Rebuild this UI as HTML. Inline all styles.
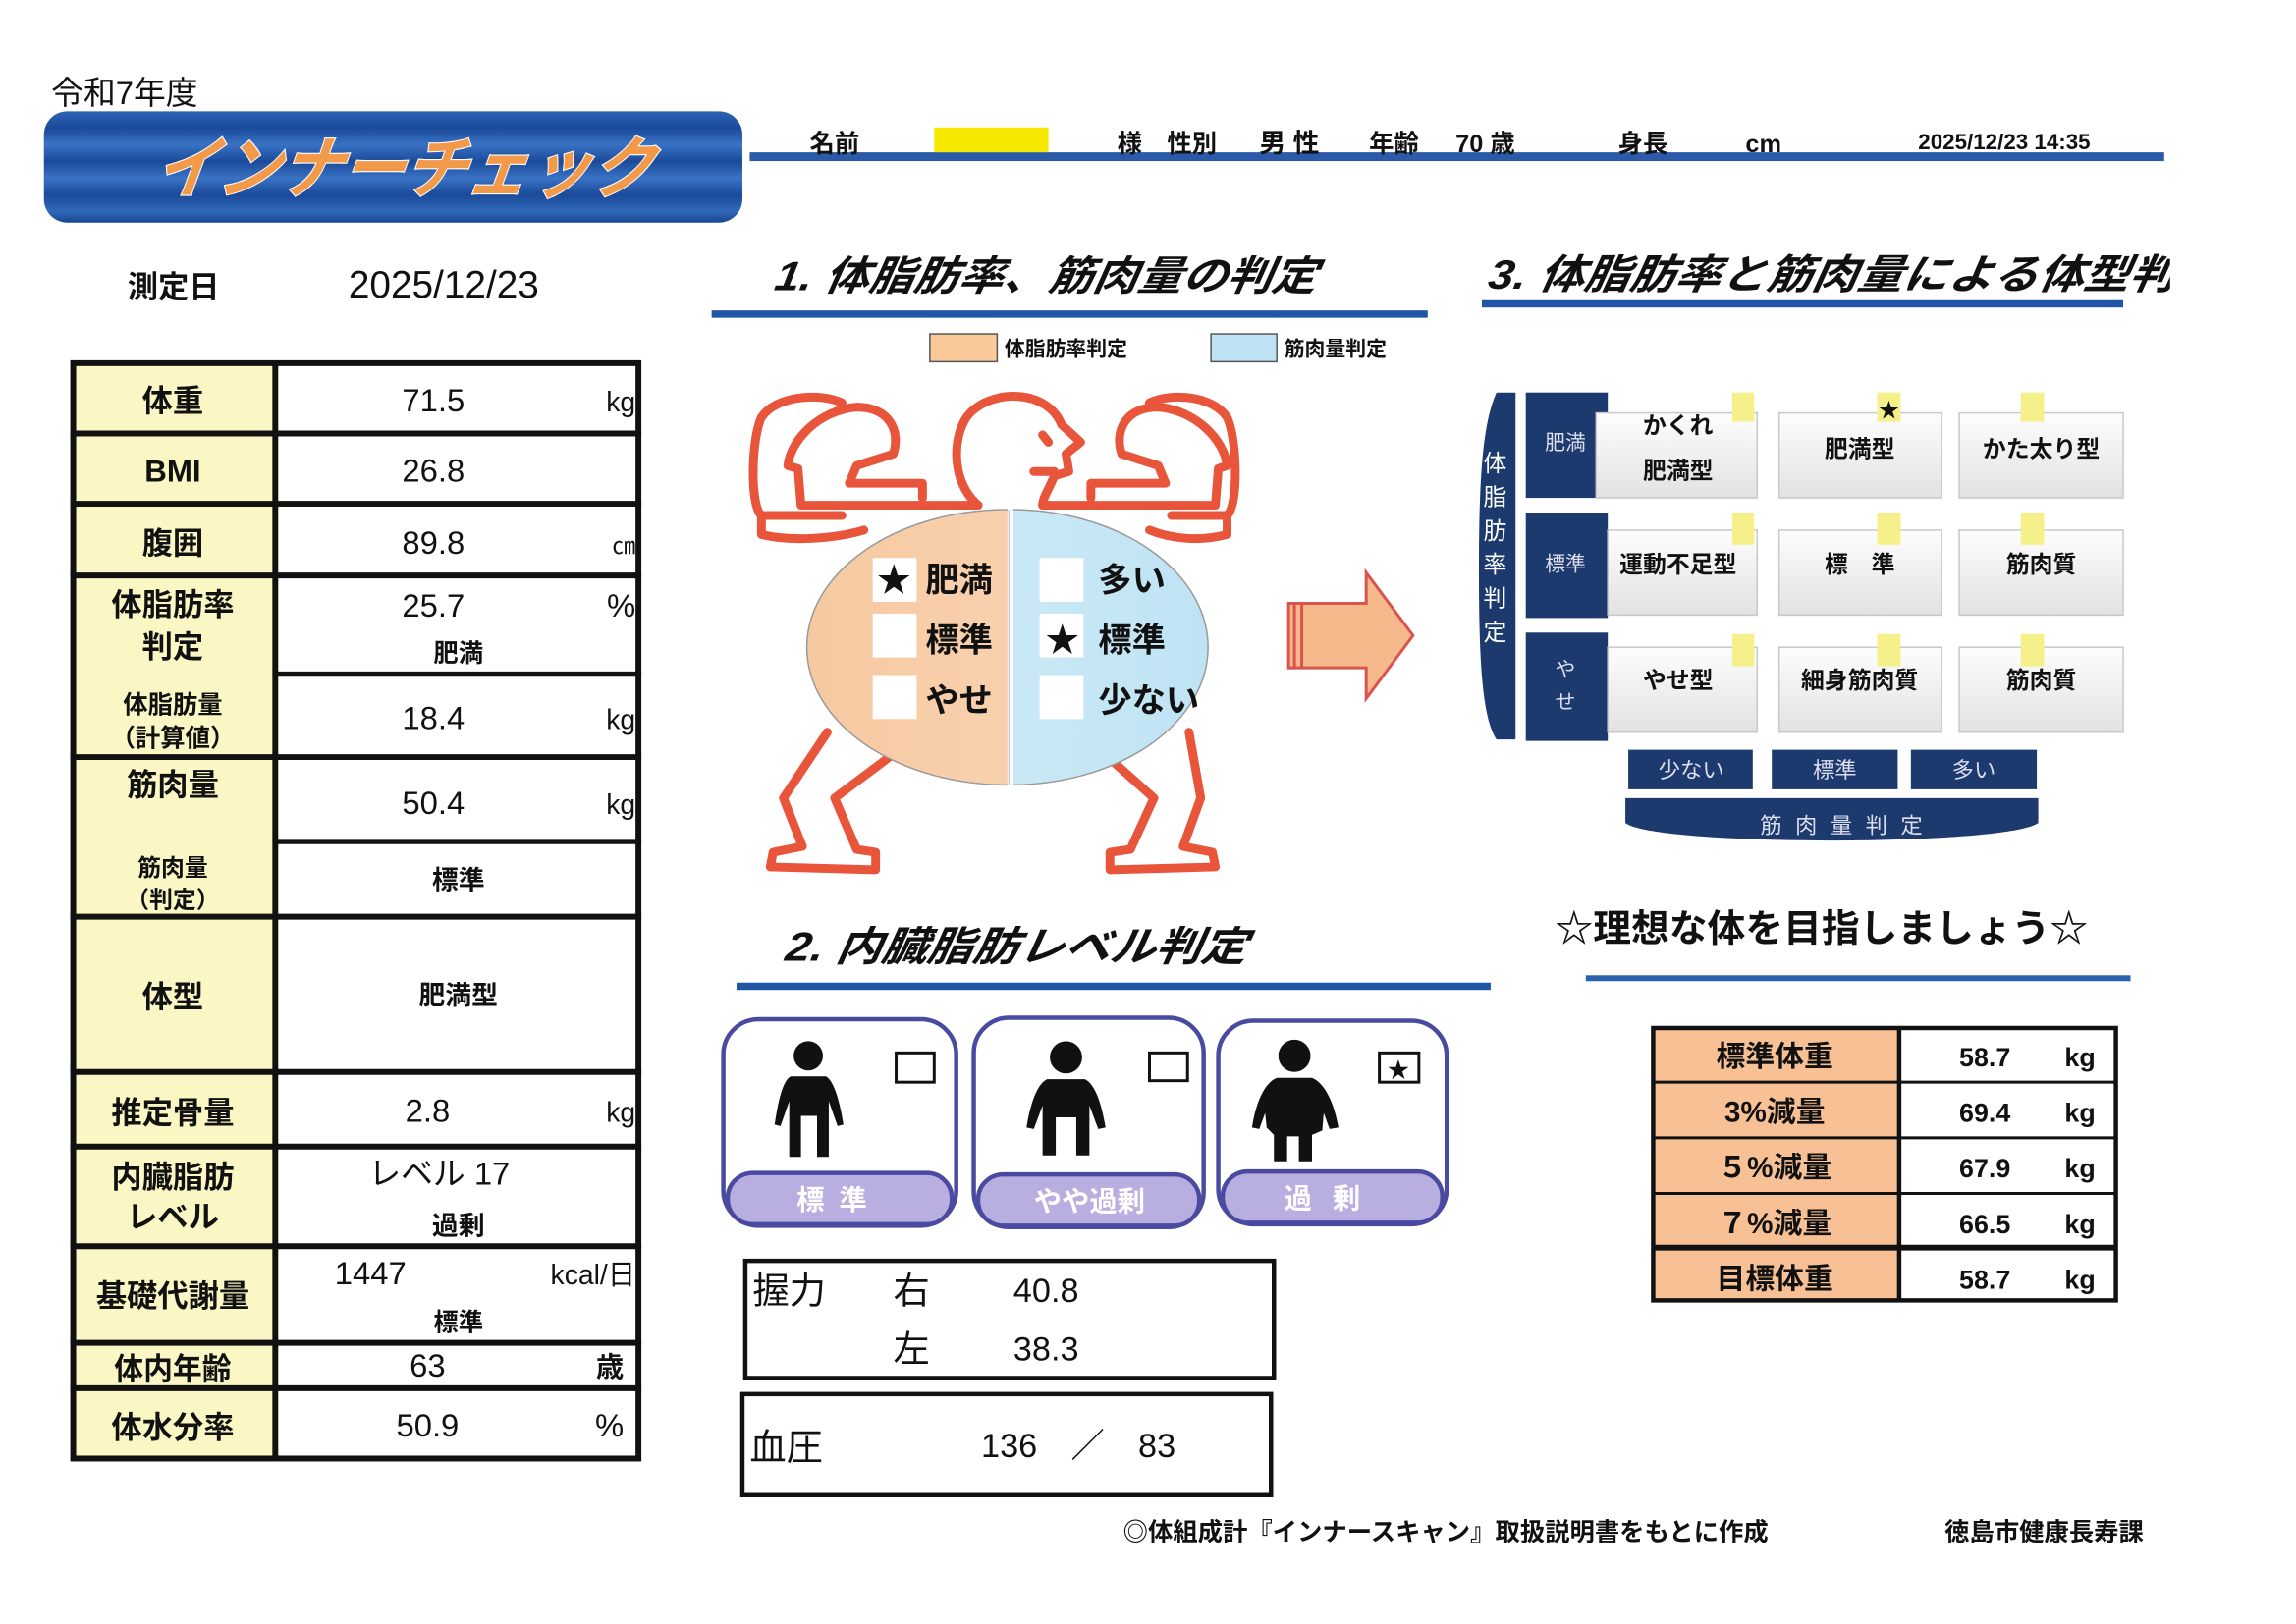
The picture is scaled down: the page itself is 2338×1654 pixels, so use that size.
<!DOCTYPE html>
<html><head><meta charset="utf-8"><style>
html,body{margin:0;padding:0;background:#fff;}
svg{display:block;}
text{font-family:"Liberation Sans","Noto Sans CJK JP",sans-serif;fill:#111;}
.b{font-weight:bold;}
.it{font-style:italic;font-weight:bold;}
</style></head><body>
<svg width="2338" height="1654" viewBox="0 0 1568 1109" preserveAspectRatio="none" xmlns="http://www.w3.org/2000/svg">
<defs>
<linearGradient id="ban" x1="0" y1="0" x2="0" y2="1">
<stop offset="0" stop-color="#2d64b8"/><stop offset="0.15" stop-color="#1b4a9a"/><stop offset="0.3" stop-color="#3a72c4"/><stop offset="0.45" stop-color="#1b4a9a"/><stop offset="0.6" stop-color="#3a72c4"/><stop offset="0.75" stop-color="#1b4a9a"/><stop offset="0.9" stop-color="#3068b8"/><stop offset="1" stop-color="#1a4590"/>
</linearGradient>
<linearGradient id="cell" x1="0" y1="0" x2="0" y2="1"><stop offset="0" stop-color="#fdfdfd"/><stop offset="1" stop-color="#e2e2e2"/></linearGradient>
<linearGradient id="org" x1="0" y1="0" x2="1" y2="0"><stop offset="0" stop-color="#f6c9a0"/><stop offset="1" stop-color="#fbd8bb"/></linearGradient>
<linearGradient id="blu" x1="0" y1="0" x2="1" y2="0"><stop offset="0" stop-color="#d4eef9"/><stop offset="1" stop-color="#bfe3f3"/></linearGradient>
<clipPath id="cl3"><rect x="0" y="0" width="1482" height="1109"/></clipPath>
<clipPath id="lh"><rect x="540" y="340" width="148" height="200"/></clipPath>
<clipPath id="rh"><rect x="692" y="340" width="148" height="200"/></clipPath>
</defs>

<!-- header -->
<text x="35" y="71" font-size="22">令和7年度</text>
<rect x="30" y="76" width="477" height="76" rx="16" fill="url(#ban)"/>
<text x="105" y="131" font-size="46" class="it" style="fill:#f39a4a;stroke:#fff;stroke-width:1.5;paint-order:stroke" textLength="340" lengthAdjust="spacingAndGlyphs" transform="skewX(-8) translate(18,0)">インナーチェック</text>

<rect x="512" y="104" width="966" height="6" fill="#2a5aa8"/>
<text x="553" y="104" font-size="17" class="b">名前</text>
<rect x="638" y="87" width="78" height="17" fill="#f7e800"/>
<text x="763" y="104" font-size="17" class="b">様</text>
<text x="797" y="104" font-size="17" class="b">性別</text>
<text x="860" y="104" font-size="18" class="b">男 性</text>
<text x="935" y="104" font-size="17" class="b">年齢</text>
<text x="994" y="104" font-size="17" class="b">70 歳</text>
<text x="1105" y="104" font-size="17" class="b">身長</text>
<text x="1192" y="104" font-size="17" class="b">cm</text>
<text x="1310" y="102" font-size="15" class="b">2025/12/23 14:35</text>

<text x="87" y="203" font-size="21" class="b">測定日</text>
<text x="238" y="203" font-size="26">2025/12/23</text>

<!-- left table -->
<g>
<rect x="48" y="247" width="140" height="750" fill="#fbf7c4"/>
<rect x="188" y="247" width="250" height="750" fill="#fff"/>
<g fill="none" stroke="#111" stroke-width="4">
<rect x="50" y="248" width="386" height="748"/>
<line x1="188" y1="247" x2="188" y2="997"/>
<line x1="48" y1="296" x2="438" y2="296"/>
<line x1="48" y1="344" x2="438" y2="344"/>
<line x1="48" y1="393" x2="438" y2="393"/>
<line x1="188" y1="460" x2="438" y2="460" stroke-width="3"/>
<line x1="48" y1="517" x2="438" y2="517"/>
<line x1="188" y1="575" x2="438" y2="575" stroke-width="3"/>
<line x1="48" y1="626" x2="438" y2="626"/>
<line x1="48" y1="732" x2="438" y2="732"/>
<line x1="48" y1="783" x2="438" y2="783"/>
<line x1="48" y1="851" x2="438" y2="851"/>
<line x1="48" y1="917" x2="438" y2="917"/>
<line x1="48" y1="948" x2="438" y2="948"/>
</g>
<g font-size="21" class="b" text-anchor="middle">
<text x="118" y="281">体重</text>
<text x="118" y="329">BMI</text>
<text x="118" y="378">腹囲</text>
<text x="118" y="420">体脂肪率</text>
<text x="118" y="449">判定</text>
<text x="118" y="487" font-size="17">体脂肪量</text>
<text x="118" y="510" font-size="17">（計算値）</text>
<text x="118" y="543">筋肉量</text>
<text x="118" y="598" font-size="16">筋肉量</text>
<text x="118" y="620" font-size="16">（判定）</text>
<text x="118" y="688">体型</text>
<text x="118" y="767">推定骨量</text>
<text x="118" y="811">内臓脂肪</text>
<text x="118" y="838">レベル</text>
<text x="118" y="892">基礎代謝量</text>
<text x="118" y="942" textLength="80" lengthAdjust="spacingAndGlyphs">体内年齢</text>
<text x="118" y="982">体水分率</text>
</g>
<g font-size="22" text-anchor="middle">
<text x="296" y="281">71.5</text>
<text x="296" y="329">26.8</text>
<text x="296" y="378">89.8</text>
<text x="296" y="421">25.7</text>
<text x="313" y="452" font-size="17" class="b">肥満</text>
<text x="296" y="498">18.4</text>
<text x="296" y="556">50.4</text>
<text x="313" y="607" font-size="18" class="b">標準</text>
<text x="313" y="686" font-size="18" class="b">肥満型</text>
<text x="292" y="766">2.8</text>
<text x="300" y="809">レベル 17</text>
<text x="313" y="843" font-size="18" class="b">過剰</text>
<text x="253" y="877">1447</text>
<text x="313" y="909" font-size="17" class="b">標準</text>
<text x="292" y="940">63</text>
<text x="292" y="981">50.9</text>
</g>
<g font-size="19" text-anchor="end">
<text x="434" y="281">kg</text>
<text x="434" y="378" font-size="16">㎝</text>
<text x="434" y="421" font-size="22">%</text>
<text x="434" y="498">kg</text>
<text x="434" y="556">kg</text>
<text x="434" y="766">kg</text>
<text x="434" y="877">kcal/日</text>
<text x="426" y="940" class="b">歳</text>
<text x="426" y="981" font-size="22">%</text>
</g>
</g>

<!-- section 1 -->
<text x="528" y="198" font-size="28" class="it" transform="skewX(-10) translate(35,0)" textLength="370" lengthAdjust="spacingAndGlyphs">1. 体脂肪率、筋肉量の判定</text>
<rect x="486" y="212" width="489" height="5" fill="#1f56a5"/>
<rect x="635" y="228" width="46" height="19" fill="#f9c99a" stroke="#555" stroke-width="1"/>
<text x="686" y="243" font-size="14" class="b">体脂肪率判定</text>
<rect x="827" y="228" width="45" height="19" fill="#bfe3f5" stroke="#555" stroke-width="1"/>
<text x="877" y="243" font-size="14" class="b">筋肉量判定</text>

<!-- human figure -->
<g fill="none" stroke="#e8553b" stroke-width="6" stroke-linejoin="round" stroke-linecap="round">
<path d="M668 345 C650 330 650 300 660 285 C675 265 715 265 725 290 L738 302 L728 310 L730 322 L720 325 C716 335 712 340 712 345"/>
<path d="M712 297 L716 302" />
<path d="M706 322 L720 322"/>
<path d="M668 345 L547 345 L545 320 L538 318 C540 300 560 280 585 278 C608 278 615 295 610 310 L585 318 L580 330 L630 330 L630 340"/>
<path d="M575 352 L520 352 C512 345 513 300 520 285 C530 270 560 268 575 275"/>
<path d="M520 352 L520 365 C540 370 570 368 590 362"/>
<path d="M712 345 L830 345 L832 320 L838 318 C836 300 816 280 791 278 C768 278 761 295 766 310 L791 318 L796 330 L745 330 L745 340"/>
<path d="M800 352 L838 352 C846 345 845 300 838 285 C828 270 800 268 785 275"/>
<path d="M838 352 L838 365 C820 370 800 368 785 362"/>
<path d="M565 500 L535 545 L548 578 L528 582 L526 592 L598 594 L598 582 L585 580 L570 545 L610 515"/>
<path d="M812 500 L820 545 L808 578 L828 582 L830 592 L758 594 L758 582 L772 580 L788 545 L760 520"/>
</g>
<ellipse cx="688" cy="442" rx="137" ry="94" fill="url(#org)" stroke="#999" stroke-width="1" clip-path="url(#lh)"/>
<ellipse cx="690" cy="442" rx="135" ry="94" fill="url(#blu)" stroke="#999" stroke-width="1" clip-path="url(#rh)"/>
<line x1="689" y1="348" x2="689" y2="536" stroke="#ccc" stroke-width="1"/>
<g fill="#fff">
<rect x="596" y="381" width="30" height="30"/><rect x="596" y="419" width="30" height="30"/><rect x="596" y="461" width="30" height="30"/>
<rect x="710" y="381" width="30" height="30"/><rect x="710" y="419" width="30" height="30"/><rect x="710" y="461" width="30" height="30"/>
</g>
<g font-size="23" class="b">
<text x="599" y="404">★</text>
<text x="632" y="404">肥満</text>
<text x="632" y="445">標準</text>
<text x="632" y="486">やせ</text>
<text x="714" y="445">★</text>
<text x="750" y="404">多い</text>
<text x="750" y="445">標準</text>
<text x="750" y="486">少ない</text>
</g>
<path d="M880 412 L933 412 L933 391 L965 434 L933 477 L933 456 L880 456 Z" fill="#f6b98c" stroke="#d9534f" stroke-width="2"/>
<line x1="884" y1="412" x2="884" y2="456" stroke="#d9534f" stroke-width="2"/>
<line x1="889" y1="412" x2="889" y2="456" stroke="#d9534f" stroke-width="2"/>

<!-- section 3 -->
<g clip-path="url(#cl3)">
<text x="1015" y="197" font-size="28" class="it" transform="skewX(-10) translate(35,0)" textLength="500" lengthAdjust="spacingAndGlyphs">3. 体脂肪率と筋肉量による体型判定</text>
</g>
<rect x="1012" y="205" width="438" height="5" fill="#1f56a5"/>

<path d="M1035 268 L1022 268 C1012 290 1010 330 1010 390 C1010 450 1012 490 1022 505 L1035 505 Z" fill="#1c3a6e"/>
<g font-size="16" text-anchor="middle">
<text x="1021" y="322" style="fill:#fff">体</text><text x="1021" y="345" style="fill:#fff">脂</text><text x="1021" y="368" style="fill:#fff">肪</text><text x="1021" y="391" style="fill:#fff">率</text><text x="1021" y="414" style="fill:#fff">判</text><text x="1021" y="437" style="fill:#fff">定</text>
</g>
<g fill="#1c3a6e">
<rect x="1042" y="268" width="56" height="72"/>
<rect x="1042" y="350" width="56" height="72"/>
<rect x="1042" y="432" width="56" height="74"/>
</g>
<g font-size="14" text-anchor="middle">
<text x="1069" y="307" style="fill:#dde">肥満</text>
<text x="1069" y="390" style="fill:#dde">標準</text>
<text x="1069" y="462" style="fill:#dde">や</text>
<text x="1069" y="484" style="fill:#dde">せ</text>
</g>
<g fill="url(#cell)" stroke="#c8c8c8" stroke-width="1">
<rect x="1090" y="282" width="110" height="58"/><rect x="1215" y="282" width="111" height="58"/><rect x="1338" y="282" width="112" height="58"/>
<rect x="1098" y="362" width="102" height="58"/><rect x="1215" y="362" width="111" height="58"/><rect x="1338" y="362" width="112" height="58"/>
<rect x="1098" y="442" width="102" height="58"/><rect x="1215" y="442" width="111" height="58"/><rect x="1338" y="442" width="112" height="58"/>
</g>
<g fill="#f5f08a">
<rect x="1183" y="268" width="15" height="20"/><rect x="1282" y="268" width="16" height="20"/><rect x="1380" y="268" width="16" height="20"/>
<rect x="1183" y="350" width="15" height="22"/><rect x="1282" y="350" width="16" height="22"/><rect x="1380" y="350" width="16" height="22"/>
<rect x="1183" y="433" width="15" height="22"/><rect x="1282" y="433" width="16" height="22"/><rect x="1380" y="433" width="16" height="22"/>
</g>
<text x="1290" y="285" font-size="14" text-anchor="middle">★</text>
<g font-size="16" class="b" text-anchor="middle">
<text x="1146" y="296">かくれ</text><text x="1146" y="327">肥満型</text>
<text x="1270" y="312">肥満型</text>
<text x="1394" y="312">かた太り型</text>
<text x="1146" y="391">運動不足型</text>
<text x="1270" y="391">標　準</text>
<text x="1394" y="391">筋肉質</text>
<text x="1146" y="470">やせ型</text>
<text x="1270" y="470">細身筋肉質</text>
<text x="1394" y="470">筋肉質</text>
</g>
<g fill="#1c3a6e">
<rect x="1112" y="512" width="85" height="27"/><rect x="1210" y="512" width="86" height="27"/><rect x="1305" y="512" width="86" height="27"/>
<path d="M1110 545 L1392 545 L1392 562 C1370 578 1130 578 1110 562 Z"/>
</g>
<g font-size="15" text-anchor="middle">
<text x="1155" y="531" style="fill:#dde">少ない</text>
<text x="1253" y="531" style="fill:#dde">標準</text>
<text x="1348" y="531" style="fill:#dde">多い</text>
<text x="1262" y="569" style="fill:#dde" letter-spacing="9">筋肉量判定</text>
</g>

<!-- section 2 -->
<text x="535" y="656" font-size="28" class="it" transform="skewX(-10) translate(116,0)" textLength="315" lengthAdjust="spacingAndGlyphs">2. 内臓脂肪レベル判定</text>
<rect x="503" y="671" width="515" height="5" fill="#1f56a5"/>
<g fill="#fff" stroke="#4a4aa0" stroke-width="3">
<rect x="494" y="696" width="159" height="141" rx="24"/>
<rect x="665" y="695" width="157" height="143" rx="24"/>
<rect x="832" y="697" width="156" height="139" rx="24"/>
</g>
<g fill="#b8aee0" stroke="#4a4aa0" stroke-width="3">
<rect x="497" y="801" width="153" height="35" rx="17"/>
<rect x="668" y="802" width="151" height="35" rx="17"/>
<rect x="835" y="800" width="150" height="35" rx="17"/>
</g>
<g font-size="19" class="b" text-anchor="middle">
<text x="573" y="826" style="fill:#fff" letter-spacing="10">標準</text>
<text x="744" y="827" style="fill:#fff">やや過剰</text>
<text x="910" y="825" style="fill:#fff" letter-spacing="14">過剰</text>
</g>
<g fill="none" stroke="#111" stroke-width="2">
<rect x="612" y="719" width="26" height="20"/><rect x="785" y="719" width="26" height="19"/><rect x="942" y="719" width="27" height="20"/>
</g>
<text x="955" y="736" font-size="15" text-anchor="middle">★</text>
<g fill="#111">
<circle cx="552" cy="721" r="10"/>
<path d="M540 735 L564 735 C570 738 574 755 576 768 L572 769 L566 752 L566 790 L558 790 L558 762 L547 762 L547 790 L539 790 L539 752 L533 769 L529 768 C531 755 534 738 540 735 Z"/>
<circle cx="728" cy="722" r="11"/>
<path d="M715 737 L741 737 C749 741 753 758 755 770 L750 771 L744 755 L744 789 L735 789 L735 763 L721 763 L721 789 L712 789 L712 755 L706 771 L701 770 C703 758 707 741 715 737 Z"/>
<circle cx="884" cy="721" r="11"/>
<path d="M872 736 L896 736 C906 740 912 757 914 770 L908 771 L904 760 L903 772 L896 775 L896 793 L887 793 L887 776 L879 776 L879 793 L870 793 L870 775 L865 770 L864 760 L860 771 L855 770 C857 757 862 740 872 736 Z"/>
</g>

<rect x="509" y="861" width="361" height="80" fill="none" stroke="#111" stroke-width="3"/>
<g font-size="25">
<text x="514" y="890">握力</text>
<text x="610" y="890">右</text>
<text x="692" y="889" font-size="23">40.8</text>
<text x="610" y="930">左</text>
<text x="692" y="929" font-size="23">38.3</text>
</g>
<rect x="507" y="952" width="361" height="69" fill="none" stroke="#111" stroke-width="3"/>
<text x="512" y="997" font-size="25">血圧</text>
<text x="670" y="995" font-size="23">136　／　83</text>

<text x="1062" y="643" font-size="26" class="b">☆理想な体を目指しましょう☆</text>
<rect x="1083" y="666" width="372" height="4" fill="#2a62b0"/>
<rect x="1128" y="701" width="169" height="188" fill="#f7c195"/>
<rect x="1297" y="701" width="149" height="188" fill="#fff"/>
<g fill="none" stroke="#111" stroke-width="3">
<rect x="1129" y="702" width="316" height="186"/>
<line x1="1297" y1="701" x2="1297" y2="889"/>
<line x1="1128" y1="739" x2="1446" y2="739" stroke-width="2"/>
<line x1="1128" y1="777" x2="1446" y2="777" stroke-width="2"/>
<line x1="1128" y1="815" x2="1446" y2="815" stroke-width="2"/>
<line x1="1128" y1="852" x2="1446" y2="852" stroke-width="4"/>
</g>
<g font-size="20" class="b" text-anchor="middle">
<text x="1212" y="728">標準体重</text>
<text x="1212" y="766">3%減量</text>
<text x="1212" y="804">５%減量</text>
<text x="1212" y="842">７%減量</text>
<text x="1212" y="880">目標体重</text>
</g>
<g font-size="18" class="b">
<text x="1338" y="728">58.7</text><text x="1410" y="728">kg</text>
<text x="1338" y="766">69.4</text><text x="1410" y="766">kg</text>
<text x="1338" y="804">67.9</text><text x="1410" y="804">kg</text>
<text x="1338" y="842">66.5</text><text x="1410" y="842">kg</text>
<text x="1338" y="880">58.7</text><text x="1410" y="880">kg</text>
</g>

<text x="767" y="1052" font-size="17" class="b">◎体組成計『インナースキャン』取扱説明書をもとに作成</text>
<text x="1328" y="1052" font-size="17" class="b">徳島市健康長寿課</text>
</svg>
</body></html>
